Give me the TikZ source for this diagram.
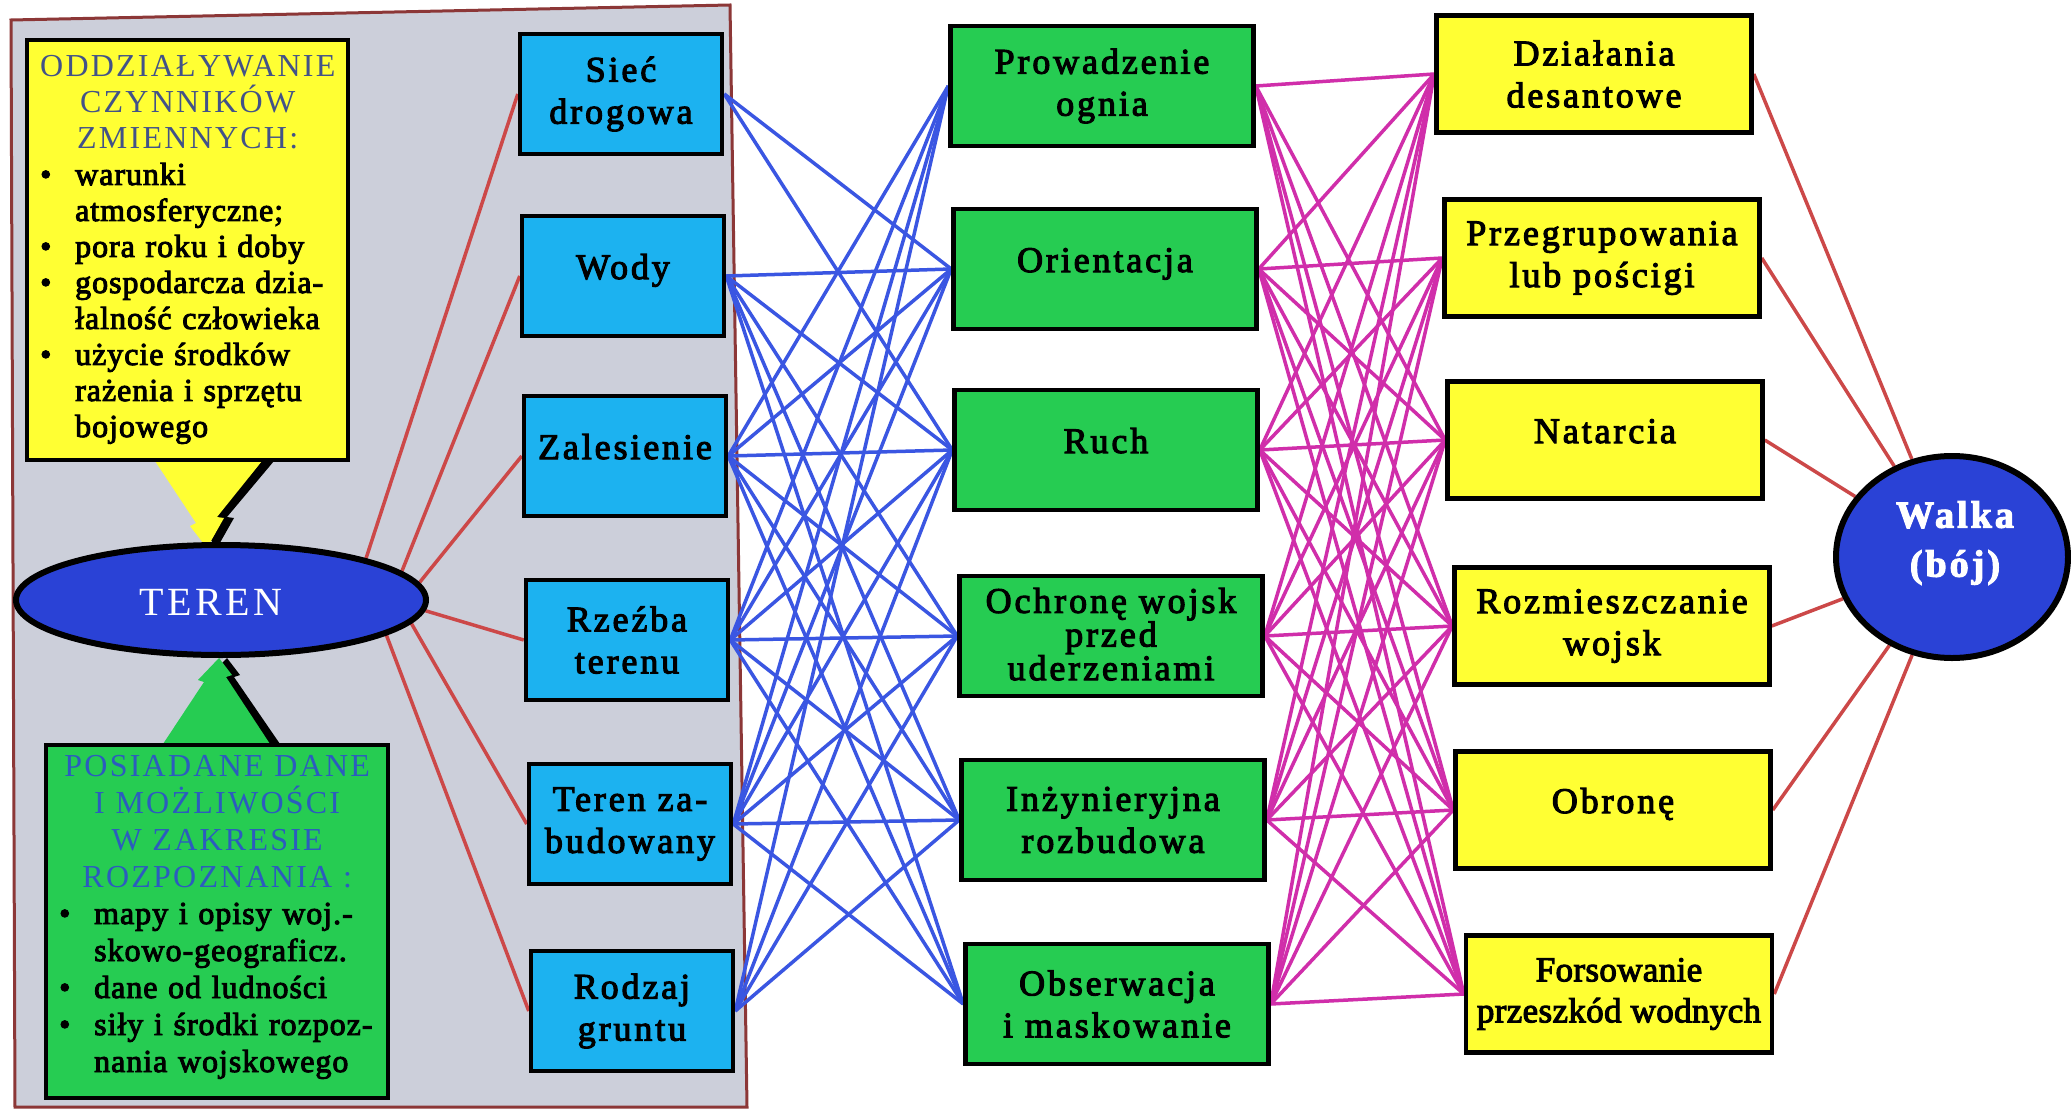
\documentclass[tikz,border=0pt]{standalone}
\usepackage{fontspec}
\setmainfont{Liberation Serif}
\newfontfamily\labfont{Liberation Serif}[LetterSpace=8,FakeBold=3]
\newfontfamily\plainfont{Liberation Serif}[LetterSpace=1,FakeBold=3]
\newfontfamily\hdrfont{Liberation Serif}[LetterSpace=7]
\newfontfamily\ovalfont{Liberation Serif}[LetterSpace=9]
\newfontfamily\itemfont{Liberation Serif}[LetterSpace=3,FakeBold=3]
\usetikzlibrary{shapes.geometric}
\pgfdeclarelayer{background}
\pgfsetlayers{background,main}

\definecolor{panelgray}{RGB}{204,207,218}
\definecolor{panelrim}{RGB}{140,55,55}
\definecolor{lemon}{RGB}{255,255,51}
\definecolor{skyfill}{RGB}{28,178,240}
\definecolor{leaf}{RGB}{38,204,82}
\definecolor{royal}{RGB}{42,66,214}
\definecolor{wireblue}{RGB}{58,86,226}
\definecolor{wiremag}{RGB}{208,46,170}
\definecolor{wirered}{RGB}{204,72,72}
\definecolor{slatetext}{RGB}{66,82,136}
\definecolor{hdrblue}{RGB}{44,92,190}

\newcommand\bul{\makebox[35pt][l]{\textbullet}}
\newcommand\ind{\hspace*{35pt}}

\begin{document}
\begin{tikzpicture}[x=1pt,y=-1pt,
  box/.style={draw=black, line width=4.5pt, minimum height=120pt, inner sep=0pt,
    align=center, font=\labfont\fontsize{36}{42}\selectfont},
  oneline/.style={text height=26pt, text depth=20pt},
  bluebox/.style={box, fill=skyfill, minimum width=202pt},
  greenbox/.style={box, fill=leaf, minimum width=303pt},
  yellowbox/.style={box, fill=lemon, minimum width=315pt, minimum height=117pt},
  oval/.style={ellipse, draw=black, line width=6pt, fill=royal, inner sep=0pt},
  ovallabel/.style={text=white, align=center, inner sep=0pt},
  infobox/.style={draw=black, line width=3.5pt, inner sep=0pt},
  infotext/.style={anchor=base west, inner sep=0pt, align=left,
    font=\itemfont\fontsize{32}{36}\selectfont},
  tieblue/.style={wireblue, line width=3.5pt},
  tiemag/.style={wiremag, line width=3.5pt},
  tiered/.style={wirered, line width=3.5pt},
]
\useasboundingbox (0,0) rectangle (2071,1110);

% terrain element boxes
\node[bluebox] (b1) at (621,94)  {Sieć\\drogowa};
\node[bluebox, oneline] (b2) at (623,276) {Wody};
\node[bluebox, oneline] (b3) at (625,456) {Zalesienie};
\node[bluebox] (b4) at (627,640) {Rzeźba\\terenu};
\node[bluebox] (b5) at (630,824) {Teren za-\\budowany};
\node[bluebox] (b6) at (632,1011) {Rodzaj\\gruntu};

% activities influenced by terrain
\node[greenbox] (g1) at (1102,86)  {Prowadzenie\\ognia};
\node[greenbox, oneline] (g2) at (1105,269) {Orientacja};
\node[greenbox, oneline] (g3) at (1106,450) {Ruch};
\node[greenbox, font=\labfont\fontsize{36}{29}\selectfont] (g4) at (1111,636) {Ochronę wojsk\\przed\\uderzeniami\rule[-4pt]{0pt}{4pt}};
\node[greenbox] (g5) at (1113,820) {Inżynieryjna\\rozbudowa};
\node[greenbox] (g6) at (1117,1004) {Obserwacja\\i maskowanie};

% forms of combat
\node[yellowbox] (y1) at (1594,74)  {Działania\\desantowe};
\node[yellowbox] (y2) at (1602,258) {Przegrupowania\\lub pościgi};
\node[yellowbox, oneline] (y3) at (1605,440) {Natarcia};
\node[yellowbox] (y4) at (1612,626) {Rozmieszczanie\\wojsk};
\node[yellowbox, oneline] (y5) at (1613,810) {Obronę};
\node[yellowbox, minimum width=306pt, font=\plainfont\fontsize{35}{41}\selectfont] (y6) at (1619,994) {Forsowanie\\przeszkód wodnych};

% central ovals and their labels
\node[oval, minimum width=410pt, minimum height=110pt] (teren) at (221,600) {};
\node[ovallabel, font=\ovalfont\fontsize{40}{44}\selectfont] (terenLabel) at (211,602) {TEREN};
\node[oval, minimum width=232pt, minimum height=202pt] (walka) at (1952,557) {};
\node[ovallabel, font=\labfont\bfseries\fontsize{38}{49}\selectfont] (walkaLabel) at (1955,543) {Walka\\(bój)};

% side panels of the terrain block
\node[infobox, fill=lemon, minimum width=321pt, minimum height=420pt] (influence) at (187.5,250) {};
\node[infotext, text width=295pt] (influenceText) at (40,77) {%
  {\centering\hdrfont\color{slatetext}ODDZIAŁYWANIE\\CZYNNIKÓW\\ZMIENNYCH:\par}
  \bul warunki\\
  \ind atmosferyczne;\\
  \bul pora roku i doby\\
  \bul gospodarcza dzia-\\
  \ind łalność człowieka\\
  \bul użycie środków\\
  \ind rażenia i sprzętu\\
  \ind bojowego};

\node[infobox, fill=leaf, minimum width=342pt, minimum height=353pt] (recon) at (217,921.5) {};
\node[infotext, text width=316pt, font=\itemfont\fontsize{32}{37}\selectfont] (reconText) at (59,776) {%
  {\centering\hdrfont\color{hdrblue}POSIADANE DANE\\I MOŻLIWOŚCI\\W ZAKRESIE\\ROZPOZNANIA :\par}
  \bul mapy i opisy woj.-\\
  \ind skowo-geograficz.\\
  \bul dane od ludności\\
  \bul siły i środki rozpoz-\\
  \ind nania wojskowego};

\begin{pgfonlayer}{background}
  \fill[white] (0,0) rectangle (2071,1110);
  % grey terrain panel
  \filldraw[fill=panelgray, draw=panelrim, line width=3pt]
    (11,20) -- (730,5) -- (747,1107) -- (15,1107) -- cycle;

  % lightning pointers into the TEREN oval
  \fill[black] (165,461) -- (206,523) -- (200,526) -- (217,548) -- (234,518) -- (227,517) -- (274,461) -- cycle;
  \fill[lemon] (155,461) -- (196,523) -- (190,526) -- (207,548) -- (224,518) -- (217,517) -- (262,461) -- cycle;
  \fill[black] (171,744) -- (212,682) -- (206,680) -- (227,658) -- (240,675) -- (234,677) -- (280,744) -- cycle;
  \fill[leaf] (163,744) -- (204,682) -- (198,680) -- (219,658) -- (232,675) -- (226,677) -- (270,744) -- cycle;

  % TEREN to its elements
  \draw[tiered] (teren.16.7) -- (b1.west);
  \draw[tiered] (teren.9.7) -- (b2.west);
  \draw[tiered] (teren.5.7) -- (b3.west);
  \draw[tiered] (teren.-3.6) -- (b4.west);
  \draw[tiered] (teren.-7.2) -- (b5.west);
  \draw[tiered] (teren.-12.5) -- (b6.west);

  % terrain elements to activities
  \foreach \s/\t in {b1/g2,b1/g3,
      b2/g2,b2/g3,b2/g4,b2/g5,b2/g6,
      b3/g1,b3/g2,b3/g3,b3/g4,b3/g5,b3/g6,
      b4/g1,b4/g2,b4/g3,b4/g4,b4/g5,b4/g6,
      b5/g1,b5/g2,b5/g3,b5/g4,b5/g5,b5/g6,
      b6/g1,b6/g3,b6/g4,b6/g5}
    \draw[tieblue] (\s.east) -- (\t.west);

  % activities to forms of combat
  \foreach \s/\t in {g1/y1,g1/y3,g1/y4,g1/y5,g1/y6,
      g2/y1,g2/y2,g2/y3,g2/y4,g2/y5,g2/y6,
      g3/y1,g3/y2,g3/y3,g3/y4,g3/y5,g3/y6,
      g4/y1,g4/y2,g4/y3,g4/y4,g4/y5,g4/y6,
      g5/y1,g5/y2,g5/y3,g5/y4,g5/y5,g5/y6,
      g6/y1,g6/y2,g6/y3,g6/y4,g6/y5,g6/y6}
    \draw[tiemag] (\s.east) -- (\t.west);

  % forms of combat to Walka
  \foreach \s in {y1,y2,y3,y4,y5,y6}
    \draw[tiered] (\s.east) -- (walka);
\end{pgfonlayer}
\end{tikzpicture}
\end{document}
